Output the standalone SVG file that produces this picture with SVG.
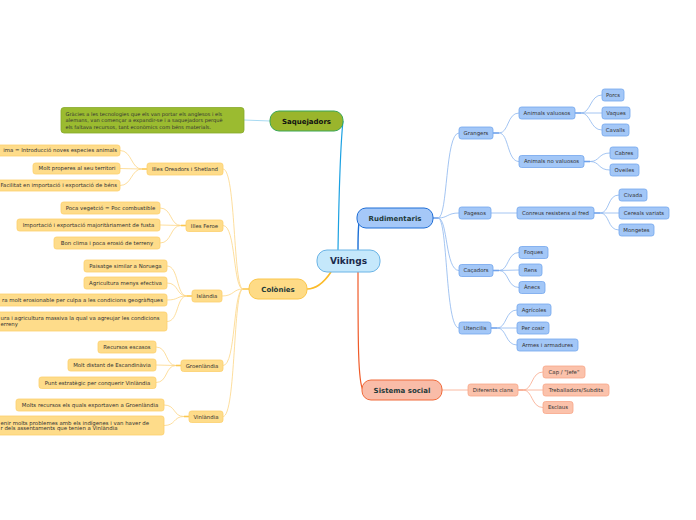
<svg xmlns="http://www.w3.org/2000/svg" width="696" height="520" viewBox="0 0 696 520">
<style>
  text{font-family:"DejaVu Sans",Verdana,sans-serif;}
  .t{font-size:5.4px;fill:#333333;}
  .n{font-size:5.1px;fill:#333333;}
  .tm{text-anchor:middle;}
  .te{text-anchor:end;}
  .y rect{fill:#fedc8a;stroke:#fccf6c;stroke-width:0.8;}
  .b rect{fill:#a3c7f7;stroke:#72a6ee;stroke-width:0.8;}
  .r rect{fill:#fbc2ab;stroke:#f7a688;stroke-width:0.8;}
  .main{font-size:7px;font-weight:bold;text-anchor:middle;fill:#1e3a3a;}
  .cy{fill:none;stroke:#fcd585;stroke-width:0.8;}
  .cb{fill:none;stroke:#8db6ef;stroke-width:0.8;}
  .cr{fill:none;stroke:#f9a88c;stroke-width:0.8;}
  .sy{stroke:#fcc850;stroke-width:1.6;}
  .sb{stroke:#6fa2ec;stroke-width:1.6;}
  .sr{stroke:#f7a083;stroke-width:1.6;}
</style>
<rect width="696" height="520" fill="#ffffff"/>
<g id="connectors">
  <path d="M338 250 C339 190 341 140 343 121" fill="none" stroke="#1ba1e2" stroke-width="1.2"/>
  <path d="M358 250 C358 232 358 222 360 218" fill="none" stroke="#1a6fd6" stroke-width="1.4"/>
  <path d="M358 272 C358 340 358 382 363 390" fill="none" stroke="#f05a28" stroke-width="1.2"/>
  <path d="M331 272 C323 284 316 289 307 289" fill="none" stroke="#fbbb2a" stroke-width="1.6"/>
  <path d="M270 121 L244 120" fill="none" stroke="#a8daf2" stroke-width="1"/>
  <line class="sy" x1="249" y1="289" x2="243" y2="289"/>
  <path class="cy" d="M243 289 C233 289 236 169 223 169"/>
  <path class="cy" d="M243 289 C233 289 236 225.5 223 225.5"/>
  <path class="cy" d="M243 289 C233 289 234 296 222 296"/>
  <path class="cy" d="M243 289 C233 289 236 365.5 223 365.5"/>
  <path class="cy" d="M243 289 C233 289 236 416.5 223 416.5"/>
  <line class="sy" x1="147" y1="169" x2="142" y2="169"/>
  <path class="cy" d="M142 169 C131 169 132 150.5 120 150.5"/>
  <path class="cy" d="M142 169 L120 168.5"/>
  <path class="cy" d="M142 169 C131 169 132 185.5 120 185.5"/>
  <line class="sy" x1="186" y1="225.5" x2="181" y2="225.5"/>
  <path class="cy" d="M181 225.5 C170 225.5 172 208 160 208"/>
  <path class="cy" d="M181 225.5 L160 225"/>
  <path class="cy" d="M181 225.5 C170 225.5 172 243 160 243"/>
  <line class="sy" x1="192" y1="296" x2="187" y2="296"/>
  <path class="cy" d="M187 296 C176 296 179 266 167 266"/>
  <path class="cy" d="M187 296 C176 296 179 283 167 283"/>
  <path class="cy" d="M187 296 C176 296 179 300 167 300"/>
  <path class="cy" d="M187 296 C176 296 179 321.5 167 321.5"/>
  <line class="sy" x1="181" y1="365.5" x2="176" y2="365.5"/>
  <path class="cy" d="M176 365.5 C165 365.5 168 347 156 347"/>
  <path class="cy" d="M176 365.5 L156 365"/>
  <path class="cy" d="M176 365.5 C165 365.5 168 382.5 156 382.5"/>
  <line class="sy" x1="189" y1="416.5" x2="184" y2="416.5"/>
  <path class="cy" d="M184 416.5 C173 416.5 176 405 164 405"/>
  <path class="cy" d="M184 416.5 C173 416.5 176 425.5 164 425.5"/>
  <line class="sb" x1="433" y1="218" x2="438" y2="218"/>
  <path class="cb" d="M438 218 C448 218 445 133 459 133"/>
  <path class="cb" d="M438 218 C448 218 447 213 459 213"/>
  <path class="cb" d="M438 218 C448 218 445 270.5 459 270.5"/>
  <path class="cb" d="M438 218 C448 218 445 328 459 328"/>
  <line class="sb" x1="493" y1="133" x2="499" y2="133"/>
  <path class="cb" d="M499 133 C509 133 507 113 519 113"/>
  <path class="cb" d="M499 133 C509 133 507 161.5 519 161.5"/>
  <line class="sb" x1="575" y1="113" x2="581" y2="113"/>
  <path class="cb" d="M581 113 C591 113 590 95 602 95"/>
  <path class="cb" d="M581 113 L602 113"/>
  <path class="cb" d="M581 113 C591 113 590 130 602 130"/>
  <line class="sb" x1="584" y1="161.5" x2="590" y2="161.5"/>
  <path class="cb" d="M590 161.5 C600 161.5 598 153 610 153"/>
  <path class="cb" d="M590 161.5 C600 161.5 598 170 610 170"/>
  <path class="cb" d="M491 213 L517 213"/>
  <line class="sb" x1="594" y1="213" x2="600" y2="213"/>
  <path class="cb" d="M600 213 C610 213 607 195 619 195"/>
  <path class="cb" d="M600 213 L619 213"/>
  <path class="cb" d="M600 213 C610 213 607 230 619 230"/>
  <line class="sb" x1="493" y1="270.5" x2="499" y2="270.5"/>
  <path class="cb" d="M499 270.5 C509 270.5 507 252.5 519 252.5"/>
  <path class="cb" d="M499 270.5 L519 270"/>
  <path class="cb" d="M499 270.5 C509 270.5 507 287.5 519 287.5"/>
  <line class="sb" x1="491" y1="328" x2="497" y2="328"/>
  <path class="cb" d="M497 328 C507 328 505 310 517 310"/>
  <path class="cb" d="M497 328 L517 328"/>
  <path class="cb" d="M497 328 C507 328 505 345 517 345"/>
  <path class="cr" d="M442 390 L468 390"/>
  <line class="sr" x1="518" y1="390" x2="523" y2="390"/>
  <path class="cr" d="M523 390 C533 390 531 372 543 372"/>
  <path class="cr" d="M523 390 L543 390"/>
  <path class="cr" d="M523 390 C533 390 531 407.5 543 407.5"/>
</g>

<g id="vikings">
  <rect x="317" y="250" width="63" height="22" rx="10" fill="#c5e8fb" stroke="#6ab4e6" stroke-width="1"/>
  <text x="348.5" y="264.2" font-size="9" font-weight="bold" text-anchor="middle" fill="#1a2a4a">Vikings</text>
</g>
<g id="saquejadors">
  <rect x="270" y="111" width="73" height="20" rx="9" fill="#9ab52c" stroke="#3aa655" stroke-width="1"/>
  <text class="main" x="306.5" y="123.5" style="fill:#111111">Saquejadors</text>
</g>
<g id="nota-saquejadors">
  <rect x="61" y="107.5" width="183" height="25.5" rx="3" fill="#9bbb30" stroke="#86aa2a" stroke-width="0.8"/>
  <text class="n" x="65.5" y="115.8">Gràcies a les tecnologies que els van portar els anglesos i els</text>
  <text class="n" x="65.5" y="122.3">alemans, van començar a expandir-se i a saquejadors perquè</text>
  <text class="n" x="65.5" y="128.6">els faltava recursos, tant econòmics com béns materials.</text>
</g>
<g id="rudimentaris">
  <rect x="357" y="208" width="76" height="20" rx="9" fill="#a5c8f8" stroke="#1f6ed6" stroke-width="1"/>
  <text class="main" x="395" y="220.5">Rudimentaris</text>
</g>
<g id="colonies">
  <rect x="249" y="279" width="58" height="20" rx="9" fill="#fedb86" stroke="#fbc64a" stroke-width="1"/>
  <text class="main" x="278" y="291.5">Colònies</text>
</g>
<g id="sistema-social">
  <rect x="362" y="380" width="80" height="20" rx="9" fill="#f9bca8" stroke="#f06a3a" stroke-width="1"/>
  <text class="main" x="402" y="392.5">Sistema social</text>
</g>

<g id="illes-oreadors" class="y">
  <rect x="147" y="163" width="76" height="12" rx="2.5"/>
  <text class="t tm" x="185" y="170.9">Illes Oreadors i Shetland</text>
</g>
<g id="illes-feroe" class="y">
  <rect x="186" y="220" width="37" height="11.5" rx="2.5"/>
  <text class="t tm" x="204.5" y="227.6">Illes Feroe</text>
</g>
<g id="islandia" class="y">
  <rect x="192" y="290" width="30" height="12" rx="2.5"/>
  <text class="t tm" x="207" y="297.9">Islàndia</text>
</g>
<g id="groenlandia" class="y">
  <rect x="181" y="360" width="42" height="11.5" rx="2.5"/>
  <text class="t tm" x="202" y="367.6">Groenlàndia</text>
</g>
<g id="vinlandia" class="y">
  <rect x="189" y="411" width="34" height="11.5" rx="2.5"/>
  <text class="t tm" x="206" y="418.6">Vinlàndia</text>
</g>

<g id="oreadors-1" class="y"><rect x="-5" y="145" width="125" height="11" rx="2.5"/><text class="t te" x="117" y="152.4">ima = Introducció noves especies animals</text></g>
<g id="oreadors-2" class="y"><rect x="33" y="163" width="87" height="11" rx="2.5"/><text class="t tm" x="77" y="170.4">Molt properes al seu territori</text></g>
<g id="oreadors-3" class="y"><rect x="-5" y="180" width="125" height="11" rx="2.5"/><text class="t te" x="117" y="187.4">Facilitat en importació i exportació de béns</text></g>

<g id="feroe-1" class="y"><rect x="61" y="202" width="99" height="12" rx="2.5"/><text class="t tm" x="110.5" y="209.9">Poca vegetció = Poc combustible</text></g>
<g id="feroe-2" class="y"><rect x="17" y="219" width="143" height="12" rx="2.5"/><text class="t tm" x="88.5" y="226.9">Importació i exportació majoritàriament de fusta</text></g>
<g id="feroe-3" class="y"><rect x="54" y="237" width="106" height="12" rx="2.5"/><text class="t tm" x="107" y="244.9">Bon clima i poca erosió de terreny</text></g>

<g id="islandia-1" class="y"><rect x="84" y="260" width="83" height="12" rx="2.5"/><text class="t tm" x="125.5" y="267.9">Paisatge similar a Noruega</text></g>
<g id="islandia-2" class="y"><rect x="84" y="277" width="83" height="12" rx="2.5"/><text class="t tm" x="125.5" y="284.9">Agricultura menys efectiva</text></g>
<g id="islandia-3" class="y"><rect x="-5" y="294" width="172" height="12" rx="2.5"/><text class="t te" x="163" y="301.9">ra molt erosionable per culpa a les condicions geogràfiques</text></g>
<g id="islandia-4" class="y"><rect x="-5" y="312" width="172" height="19" rx="2.5"/>
  <text class="t" x="0.5" y="319.9">ura i agricultura massiva la qual va agreujar les condicions</text>
  <text class="t" x="0.5" y="325.7">erreny</text></g>

<g id="groenlandia-1" class="y"><rect x="98" y="341" width="58" height="12" rx="2.5"/><text class="t tm" x="127" y="348.9">Recursos escasos</text></g>
<g id="groenlandia-2" class="y"><rect x="68" y="359" width="88" height="12" rx="2.5"/><text class="t tm" x="112" y="366.9">Molt distant de Escandinàvia</text></g>
<g id="groenlandia-3" class="y"><rect x="39" y="377" width="117" height="11.5" rx="2.5"/><text class="t tm" x="97.5" y="384.6">Punt estratègic per conquerir Vinlàndia</text></g>

<g id="vinlandia-1" class="y"><rect x="16" y="399" width="148" height="12" rx="2.5"/><text class="t tm" x="90" y="406.9">Molts recursos els quals exportaven a Groenlàndia</text></g>
<g id="vinlandia-2" class="y"><rect x="-5" y="416" width="169" height="19" rx="2.5"/>
  <text class="t" x="0.5" y="424.6">enir molts problemes amb els indígenes i van haver de</text>
  <text class="t" x="0.5" y="430.3">r dels assentaments que tenien a Vinlàndia</text></g>

<g id="grangers" class="b"><rect x="459" y="127" width="34" height="12" rx="2.5"/><text class="t tm" x="476" y="134.9">Grangers</text></g>
<g id="animals-valuosos" class="b"><rect x="519" y="107" width="56" height="12" rx="2.5"/><text class="t tm" x="547" y="114.9">Animals valuosos</text></g>
<g id="porcs" class="b"><rect x="602" y="89" width="22" height="12" rx="2.5"/><text class="t tm" x="613" y="96.9">Porcs</text></g>
<g id="vaques" class="b"><rect x="602" y="107" width="28" height="12" rx="2.5"/><text class="t tm" x="616" y="114.9">Vaques</text></g>
<g id="cavalls" class="b"><rect x="602" y="124" width="27" height="12" rx="2.5"/><text class="t tm" x="615.5" y="131.9">Cavalls</text></g>
<g id="animals-no-valuosos" class="b"><rect x="519" y="155.5" width="65" height="12" rx="2.5"/><text class="t tm" x="551.5" y="163.4">Animals no valuosos</text></g>
<g id="cabres" class="b"><rect x="610" y="147" width="28" height="12" rx="2.5"/><text class="t tm" x="624" y="154.9">Cabres</text></g>
<g id="oveiles" class="b"><rect x="610" y="164" width="29" height="12" rx="2.5"/><text class="t tm" x="624.5" y="171.9">Oveiles</text></g>

<g id="pagesos" class="b"><rect x="459" y="207" width="32" height="12" rx="2.5"/><text class="t tm" x="475" y="214.9">Pagesos</text></g>
<g id="conreus" class="b"><rect x="517" y="207" width="77" height="12" rx="2.5"/><text class="t tm" x="555.5" y="214.9">Conreus resistens al fred</text></g>
<g id="civada" class="b"><rect x="619" y="189" width="28" height="12" rx="2.5"/><text class="t tm" x="633" y="196.9">Civada</text></g>
<g id="cereals" class="b"><rect x="619" y="207" width="50" height="12" rx="2.5"/><text class="t tm" x="644" y="214.9">Cereals variats</text></g>
<g id="mongetes" class="b"><rect x="619" y="224" width="35" height="12" rx="2.5"/><text class="t tm" x="636.5" y="231.9">Mongetes</text></g>

<g id="cacadors" class="b"><rect x="459" y="264.5" width="34" height="12" rx="2.5"/><text class="t tm" x="476" y="272.4">Caçadors</text></g>
<g id="foques" class="b"><rect x="519" y="246.5" width="29" height="12" rx="2.5"/><text class="t tm" x="533.5" y="254.4">Foques</text></g>
<g id="rens" class="b"><rect x="519" y="264" width="23" height="12" rx="2.5"/><text class="t tm" x="530.5" y="271.9">Rens</text></g>
<g id="anecs" class="b"><rect x="519" y="281.5" width="26" height="12" rx="2.5"/><text class="t tm" x="532" y="289.4">Ànecs</text></g>

<g id="utencilis" class="b"><rect x="459" y="322" width="32" height="12" rx="2.5"/><text class="t tm" x="475" y="329.9">Utencilis</text></g>
<g id="agricoles" class="b"><rect x="517" y="304" width="34" height="12" rx="2.5"/><text class="t tm" x="534" y="311.9">Agrícoles</text></g>
<g id="per-cosir" class="b"><rect x="517" y="322" width="32" height="12" rx="2.5"/><text class="t tm" x="533" y="329.9">Per cosir</text></g>
<g id="armes" class="b"><rect x="517" y="339" width="61" height="12" rx="2.5"/><text class="t tm" x="547.5" y="346.9">Armes i armadures</text></g>

<g id="diferents-clans" class="r"><rect x="468" y="384" width="50" height="12" rx="2.5"/><text class="t tm" x="493" y="391.9">Diferents clans</text></g>
<g id="cap-jefe" class="r"><rect x="543" y="366" width="42" height="12" rx="2.5"/><text class="t tm" x="564" y="373.9">Cap / "Jefe"</text></g>
<g id="treballadors" class="r"><rect x="543" y="384" width="66" height="12" rx="2.5"/><text class="t tm" x="576" y="391.9">Treballadors/Subdits</text></g>
<g id="esclaus" class="r"><rect x="543" y="401.5" width="30" height="12" rx="2.5"/><text class="t tm" x="558" y="409.4">Esclaus</text></g>
</svg>
